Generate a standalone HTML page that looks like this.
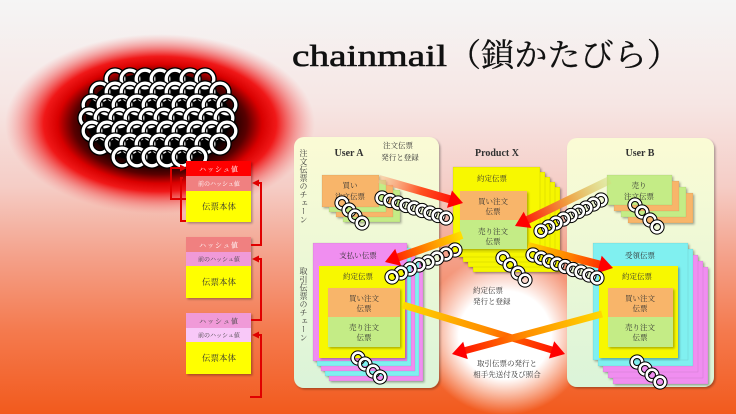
<!DOCTYPE html>
<html><head><meta charset="utf-8">
<style>
html,body{margin:0;padding:0;width:736px;height:414px;overflow:hidden;background:#f5f5f5;}
#w{position:relative;width:736px;height:414px;}
svg{position:absolute;left:0;top:0;}
.v{position:absolute;writing-mode:vertical-rl;font-family:"Liberation Serif","Noto Serif CJK SC",serif;font-size:8px;line-height:8px;letter-spacing:0.3px;color:#333;width:8px;}
</style></head><body><div id="w">
<svg width="736" height="414" viewBox="0 0 736 414" xmlns="http://www.w3.org/2000/svg" font-family="'Liberation Serif','Noto Serif CJK SC',serif">
<defs>
 <linearGradient id="bg" x1="0" y1="0" x2="0" y2="1">
  <stop offset="0" stop-color="#f5f5f5"/>
  <stop offset="0.25" stop-color="#f6e6e4"/>
  <stop offset="0.45" stop-color="#f5cdc6"/>
  <stop offset="0.62" stop-color="#f4a18a"/>
  <stop offset="0.8" stop-color="#f47a4e"/>
  <stop offset="1" stop-color="#f25a1d"/>
 </linearGradient>
 <radialGradient id="glow" cx="0.5" cy="0.5" r="0.5">
  <stop offset="0" stop-color="#000"/>
  <stop offset="0.42" stop-color="#000"/>
  <stop offset="0.56" stop-color="#5a0000"/>
  <stop offset="0.66" stop-color="#d80000"/>
  <stop offset="0.75" stop-color="#f01818"/>
  <stop offset="0.87" stop-color="#f04848" stop-opacity="0.5"/>
  <stop offset="1" stop-color="#f58080" stop-opacity="0"/>
 </radialGradient>
 <radialGradient id="wg" cx="0.5" cy="0.5" r="0.5">
  <stop offset="0" stop-color="#fff"/>
  <stop offset="0.55" stop-color="#fff"/>
  <stop offset="1" stop-color="#fff" stop-opacity="0"/>
 </radialGradient>
 <linearGradient id="pan" x1="0" y1="0" x2="0" y2="1">
  <stop offset="0" stop-color="#fbfbd5"/>
  <stop offset="0.5" stop-color="#ecf8d6"/>
  <stop offset="1" stop-color="#dbf4d9"/>
 </linearGradient>
 <linearGradient id="g1" gradientUnits="userSpaceOnUse" x1="379" y1="179" x2="463" y2="203">
  <stop offset="0" stop-color="#f8b890" stop-opacity="0.5"/><stop offset="0.5" stop-color="#ff5020"/><stop offset="1" stop-color="#ff0000"/>
 </linearGradient>
 <linearGradient id="g2" gradientUnits="userSpaceOnUse" x1="610" y1="180" x2="515" y2="226">
  <stop offset="0" stop-color="#d0e080" stop-opacity="0.5"/><stop offset="0.45" stop-color="#f0a040"/><stop offset="1" stop-color="#ff0000"/>
 </linearGradient>
 <linearGradient id="g3" gradientUnits="userSpaceOnUse" x1="462" y1="235" x2="385" y2="262">
  <stop offset="0" stop-color="#ffe000"/><stop offset="0.5" stop-color="#ff8000"/><stop offset="1" stop-color="#ff0000"/>
 </linearGradient>
 <linearGradient id="g4" gradientUnits="userSpaceOnUse" x1="528" y1="246" x2="613" y2="268">
  <stop offset="0" stop-color="#ffd000"/><stop offset="0.5" stop-color="#ff8000"/><stop offset="1" stop-color="#ff1000"/>
 </linearGradient>
 <linearGradient id="g5" gradientUnits="userSpaceOnUse" x1="403" y1="305" x2="565" y2="354">
  <stop offset="0" stop-color="#ffd800"/><stop offset="0.5" stop-color="#ff9000"/><stop offset="1" stop-color="#ff0000"/>
 </linearGradient>
 <linearGradient id="g6" gradientUnits="userSpaceOnUse" x1="602" y1="314" x2="452" y2="354">
  <stop offset="0" stop-color="#ffd800"/><stop offset="0.5" stop-color="#ff9000"/><stop offset="1" stop-color="#ff0000"/>
 </linearGradient>
 <filter id="sh" x="-10%" y="-10%" width="130%" height="130%">
  <feDropShadow dx="1.5" dy="1.5" stdDeviation="1" flood-color="#000" flood-opacity="0.3"/>
 </filter>
 <g id="r"><circle r="5.3" fill="none" stroke="#000" stroke-width="4.6"/><circle r="5.3" fill="none" stroke="#fff" stroke-width="2.6"/></g>
 <g id="R"><circle r="8.8" fill="none" stroke="#000" stroke-width="6"/><circle r="8.8" fill="none" stroke="#fff" stroke-width="3.3"/></g>
</defs>

<rect x="0" y="0" width="736" height="414" fill="url(#bg)"/>

<!-- chainmail glow -->
<ellipse cx="160" cy="124" rx="155" ry="90" fill="url(#glow)"/>
<ellipse cx="158" cy="118" rx="72" ry="46" fill="#000"/>
<g>
 <use href="#R" x="115" y="79"/><use href="#R" x="130" y="79"/><use href="#R" x="145" y="79"/><use href="#R" x="160" y="79"/><use href="#R" x="175" y="79"/><use href="#R" x="190" y="79"/><use href="#R" x="205" y="79"/>
 <use href="#R" x="100" y="92"/><use href="#R" x="115" y="92"/><use href="#R" x="130" y="92"/><use href="#R" x="145" y="92"/><use href="#R" x="160" y="92"/><use href="#R" x="175" y="92"/><use href="#R" x="190" y="92"/><use href="#R" x="205" y="92"/><use href="#R" x="220" y="92"/>
 <use href="#R" x="92" y="105"/><use href="#R" x="107" y="105"/><use href="#R" x="122" y="105"/><use href="#R" x="137" y="105"/><use href="#R" x="152" y="105"/><use href="#R" x="167" y="105"/><use href="#R" x="182" y="105"/><use href="#R" x="197" y="105"/><use href="#R" x="212" y="105"/><use href="#R" x="227" y="105"/>
 <use href="#R" x="89" y="118"/><use href="#R" x="104" y="118"/><use href="#R" x="119" y="118"/><use href="#R" x="134" y="118"/><use href="#R" x="149" y="118"/><use href="#R" x="164" y="118"/><use href="#R" x="179" y="118"/><use href="#R" x="194" y="118"/><use href="#R" x="209" y="118"/><use href="#R" x="224" y="118"/>
 <use href="#R" x="92" y="131"/><use href="#R" x="107" y="131"/><use href="#R" x="122" y="131"/><use href="#R" x="137" y="131"/><use href="#R" x="152" y="131"/><use href="#R" x="167" y="131"/><use href="#R" x="182" y="131"/><use href="#R" x="197" y="131"/><use href="#R" x="212" y="131"/><use href="#R" x="227" y="131"/>
 <use href="#R" x="100" y="144"/><use href="#R" x="115" y="144"/><use href="#R" x="130" y="144"/><use href="#R" x="145" y="144"/><use href="#R" x="160" y="144"/><use href="#R" x="175" y="144"/><use href="#R" x="190" y="144"/><use href="#R" x="205" y="144"/><use href="#R" x="220" y="144"/>
 <use href="#R" x="122" y="157"/><use href="#R" x="137" y="157"/><use href="#R" x="152" y="157"/><use href="#R" x="167" y="157"/><use href="#R" x="182" y="157"/><use href="#R" x="197" y="157"/>
</g>

<!-- left hash blocks -->
<g filter="url(#sh)">
 <rect x="186" y="161" width="65" height="15" fill="#ff0000"/>
 <rect x="186" y="176" width="65" height="15" fill="#f08080"/>
 <rect x="186" y="191" width="65" height="31" fill="#ffff00"/>
</g>
<g filter="url(#sh)">
 <rect x="186" y="237" width="65" height="15" fill="#f08080"/>
 <rect x="186" y="252" width="65" height="14" fill="#f09ad8"/>
 <rect x="186" y="266" width="65" height="32" fill="#ffff00"/>
</g>
<g filter="url(#sh)">
 <rect x="186" y="313" width="65" height="15" fill="#f09ad8"/>
 <rect x="186" y="328" width="65" height="14" fill="#f8c8f8"/>
 <rect x="186" y="342" width="65" height="32" fill="#ffff00"/>
</g>
<g text-anchor="middle">
 <text x="219" y="171.5" font-size="7" letter-spacing="1" fill="#fff">ハッシュ値</text>
 <text x="219" y="186" font-size="6" fill="#fff">前のハッシュ値</text>
 <text x="219" y="209.5" font-size="8.5" fill="#333">伝票本体</text>
 <text x="219" y="247.5" font-size="7" letter-spacing="1" fill="#fff">ハッシュ値</text>
 <text x="219" y="261.5" font-size="6" fill="#444">前のハッシュ値</text>
 <text x="219" y="285" font-size="8.5" fill="#333">伝票本体</text>
 <text x="219" y="323.5" font-size="7" letter-spacing="1" fill="#444">ハッシュ値</text>
 <text x="219" y="337.5" font-size="6" fill="#444">前のハッシュ値</text>
 <text x="219" y="361" font-size="8.5" fill="#333">伝票本体</text>
</g>
<g fill="none" stroke="#e00000" stroke-width="2">
 <path d="M186,199 H171 V168 H181"/>
 <path d="M186,221 H181 V178 H183"/>
 <path d="M251,245 H261 V183 H257"/>
 <path d="M251,320 H261 V259 H257"/>
 <path d="M250,397 H261 V335 H257"/>
</g>
<g fill="#e00000">
 <polygon points="187,168 180,164.5 180,171.5"/>
 <polygon points="252,183 259,179.5 259,186.5"/>
 <polygon points="252,259 259,255.5 259,262.5"/>
 <polygon points="252,335 259,331.5 259,338.5"/>
</g>

<!-- title -->
<text x="292" y="66" font-size="31" fill="#111" stroke="#111" stroke-width="0.6" textLength="155" lengthAdjust="spacingAndGlyphs">chainmail</text>
<text x="448" y="66" font-size="32" fill="#111" stroke="#111" stroke-width="0.3" font-family="'Noto Serif CJK SC','Liberation Serif',serif" textLength="232" lengthAdjust="spacingAndGlyphs">（鎖かたびら）</text>

<!-- middle white glow -->
<ellipse cx="505" cy="335" rx="84" ry="80" fill="url(#wg)"/>

<!-- panels -->
<g filter="url(#sh)">
 <rect x="294" y="137" width="145" height="251" rx="10" fill="url(#pan)"/>
 <rect x="567" y="138" width="147" height="249" rx="10" fill="url(#pan)"/>
</g>

<g font-size="10" font-weight="bold" fill="#333" text-anchor="middle">
 <text x="349" y="156">User A</text>
 <text x="497" y="156">Product X</text>
 <text x="640" y="156">User B</text>
</g>
<g font-size="7.5" fill="#333" text-anchor="middle">
 <text x="398" y="148">注文伝票</text>
 <text x="400" y="160">発行と登録</text>
</g>

<!-- User A top stack -->
<g filter="url(#sh)" stroke="rgba(0,0,0,0.12)" stroke-width="0.5">
 <rect x="343" y="190" width="57" height="32" fill="#c4ec86"/>
 <rect x="336" y="185" width="57" height="32" fill="#f8b56a"/>
 <rect x="329" y="180" width="57" height="32" fill="#c4ec86"/>
 <rect x="322" y="175" width="57" height="32" fill="#f8b56a"/>
</g>
<!-- User B top stack -->
<g filter="url(#sh)" stroke="rgba(0,0,0,0.12)" stroke-width="0.5">
 <rect x="628" y="193" width="65" height="30" fill="#f8b56a"/>
 <rect x="621" y="187" width="65" height="30" fill="#c4ec86"/>
 <rect x="614" y="181" width="65" height="30" fill="#f8b56a"/>
 <rect x="607" y="175" width="65" height="30" fill="#c4ec86"/>
</g>
<!-- Product stack -->
<g filter="url(#sh)" stroke="rgba(0,0,0,0.15)" stroke-width="0.5">
 <rect x="473" y="187" width="87" height="85" fill="#f6f600"/>
 <rect x="468" y="182" width="87" height="85" fill="#f6f600"/>
 <rect x="463" y="177" width="87" height="85" fill="#f6f600"/>
 <rect x="458" y="172" width="87" height="85" fill="#f6f600"/>
 <rect x="453" y="167" width="87" height="85" fill="#f8f800"/>
</g>
<g filter="url(#sh)">
 <rect x="460" y="191" width="67" height="29" fill="#f8b56a"/>
 <rect x="460" y="220" width="67" height="29" fill="#c4ec86"/>
</g>
<!-- User A bottom stack -->
<g filter="url(#sh)" stroke="rgba(0,0,0,0.12)" stroke-width="0.5">
 <rect x="329" y="263" width="94" height="118" fill="#f08ef0"/>
 <rect x="325" y="258" width="94" height="118" fill="#80f0f0"/>
 <rect x="321" y="253" width="94" height="118" fill="#f08ef0"/>
 <rect x="317" y="248" width="94" height="118" fill="#80f0f0"/>
 <rect x="313" y="243" width="94" height="118" fill="#f08ef0"/>
</g>
<g filter="url(#sh)">
 <rect x="319" y="266" width="86" height="92" fill="#f8f800"/>
</g>
<g filter="url(#sh)">
 <rect x="328" y="288" width="72" height="29" fill="#f8b56a"/>
 <rect x="328" y="317" width="72" height="30" fill="#c4ec86"/>
</g>
<!-- User B bottom stack -->
<g filter="url(#sh)" stroke="rgba(0,0,0,0.12)" stroke-width="0.5">
 <rect x="613" y="267" width="95" height="117" fill="#f08ef0"/>
 <rect x="608" y="261" width="95" height="117" fill="#f08ef0"/>
 <rect x="603" y="255" width="95" height="117" fill="#f08ef0"/>
 <rect x="598" y="249" width="95" height="117" fill="#80f0f0"/>
 <rect x="593" y="243" width="95" height="117" fill="#80f0f0"/>
</g>
<g filter="url(#sh)">
 <rect x="599" y="266" width="79" height="92" fill="#f8f800"/>
</g>
<g filter="url(#sh)">
 <rect x="608" y="288" width="65" height="29" fill="#f8b56a"/>
 <rect x="608" y="317" width="65" height="30" fill="#c4ec86"/>
</g>

<!-- card texts -->
<g font-size="7.5" fill="#333" text-anchor="middle">
 <text x="350" y="188">買い</text>
 <text x="350" y="199">注文伝票</text>
 <text x="639" y="188">売り</text>
 <text x="639" y="199">注文伝票</text>
 <text x="492" y="181">約定伝票</text>
 <text x="493" y="204">買い注文</text>
 <text x="493" y="214">伝票</text>
 <text x="493" y="234">売り注文</text>
 <text x="493" y="244">伝票</text>
 <text x="358" y="258">支払い伝票</text>
 <text x="358" y="279">約定伝票</text>
 <text x="364" y="301">買い注文</text>
 <text x="364" y="311">伝票</text>
 <text x="364" y="330">売り注文</text>
 <text x="364" y="340">伝票</text>
 <text x="640" y="258">受領伝票</text>
 <text x="637" y="279">約定伝票</text>
 <text x="640" y="301">買い注文</text>
 <text x="640" y="311">伝票</text>
 <text x="640" y="330">売り注文</text>
 <text x="640" y="340">伝票</text>
</g>

<!-- arrows -->
<line x1="379" y1="179" x2="450.5" y2="199.5" stroke="url(#g1)" stroke-width="8"/>
<polygon points="463,203 447,207.9 452,190.5" fill="#ff0000"/>
<line x1="610" y1="180" x2="526.7" y2="220.3" stroke="url(#g2)" stroke-width="8"/>
<polygon points="515,226 523.7,211.8 531.5,228" fill="#ff0000"/>
<line x1="462" y1="235" x2="397.3" y2="257.7" stroke="url(#g3)" stroke-width="8"/>
<polygon points="385,262 395.2,248.9 401.2,265.9" fill="#ff0000"/>
<line x1="528" y1="246" x2="600.4" y2="264.8" stroke="url(#g4)" stroke-width="8"/>
<polygon points="613,268 597.2,273.2 601.7,255.8" fill="#ff0000"/>
<line x1="403" y1="305" x2="552.6" y2="350.2" stroke="url(#g5)" stroke-width="7"/>
<polygon points="565,354 549,358.5 554.2,341.3" fill="#ff0000"/>
<line x1="602" y1="314" x2="464.5" y2="350.7" stroke="url(#g6)" stroke-width="7"/>
<polygon points="452,354 463.2,341.7 467.8,359.1" fill="#ff0000"/>

<!-- chains -->
<g>
 <use href="#r" x="382" y="198"/><use href="#r" x="390" y="200.5"/><use href="#r" x="398" y="203"/><use href="#r" x="406" y="205.5"/><use href="#r" x="414" y="208"/><use href="#r" x="422" y="210.5"/><use href="#r" x="430" y="213"/><use href="#r" x="438" y="215.5"/><use href="#r" x="446" y="218"/>
 <use href="#r" x="342" y="203"/><use href="#r" x="349" y="210"/><use href="#r" x="355" y="216"/><use href="#r" x="362" y="223"/>
 <use href="#r" x="455" y="250"/><use href="#r" x="446" y="254"/><use href="#r" x="437" y="258"/><use href="#r" x="428" y="262"/><use href="#r" x="419" y="265"/><use href="#r" x="410" y="269"/><use href="#r" x="401" y="273"/><use href="#r" x="392" y="277"/>
 <use href="#r" x="358" y="358"/><use href="#r" x="365" y="364"/><use href="#r" x="373" y="371"/><use href="#r" x="380" y="377"/>
 <use href="#r" x="601" y="200"/><use href="#r" x="593.5" y="204"/><use href="#r" x="586" y="208"/><use href="#r" x="578.5" y="211.5"/><use href="#r" x="571" y="215.5"/><use href="#r" x="563.5" y="219"/><use href="#r" x="556" y="223"/><use href="#r" x="548.5" y="227"/><use href="#r" x="541" y="231"/>
 <use href="#r" x="635" y="205"/><use href="#r" x="642" y="212"/><use href="#r" x="650" y="220"/><use href="#r" x="657" y="227"/>
 <use href="#r" x="533" y="255"/><use href="#r" x="541" y="258"/><use href="#r" x="549" y="261"/><use href="#r" x="557" y="264"/><use href="#r" x="565" y="266.5"/><use href="#r" x="573" y="269.5"/><use href="#r" x="581" y="272"/><use href="#r" x="589" y="275"/><use href="#r" x="597" y="278"/>
 <use href="#r" x="503" y="258"/><use href="#r" x="510" y="265"/><use href="#r" x="518" y="273"/><use href="#r" x="525" y="280"/>
 <use href="#r" x="637" y="362"/><use href="#r" x="645" y="369"/><use href="#r" x="652" y="375"/><use href="#r" x="660" y="382"/>
</g>

<!-- middle labels -->
<g font-size="7.5" fill="#333">
 <text x="473" y="293">約定伝票</text>
 <text x="473" y="304">発行と登録</text>
</g>
<g font-size="7.5" fill="#333" text-anchor="middle">
 <text x="507" y="366">取引伝票の発行と</text>
 <text x="507" y="377">相手先送付及び照合</text>
</g>
</svg>
<div class="v" style="left:299px;top:149px;">注文伝票のチェーン</div>
<div class="v" style="left:299px;top:267px;">取引伝票のチェーン</div>
</div></body></html>
